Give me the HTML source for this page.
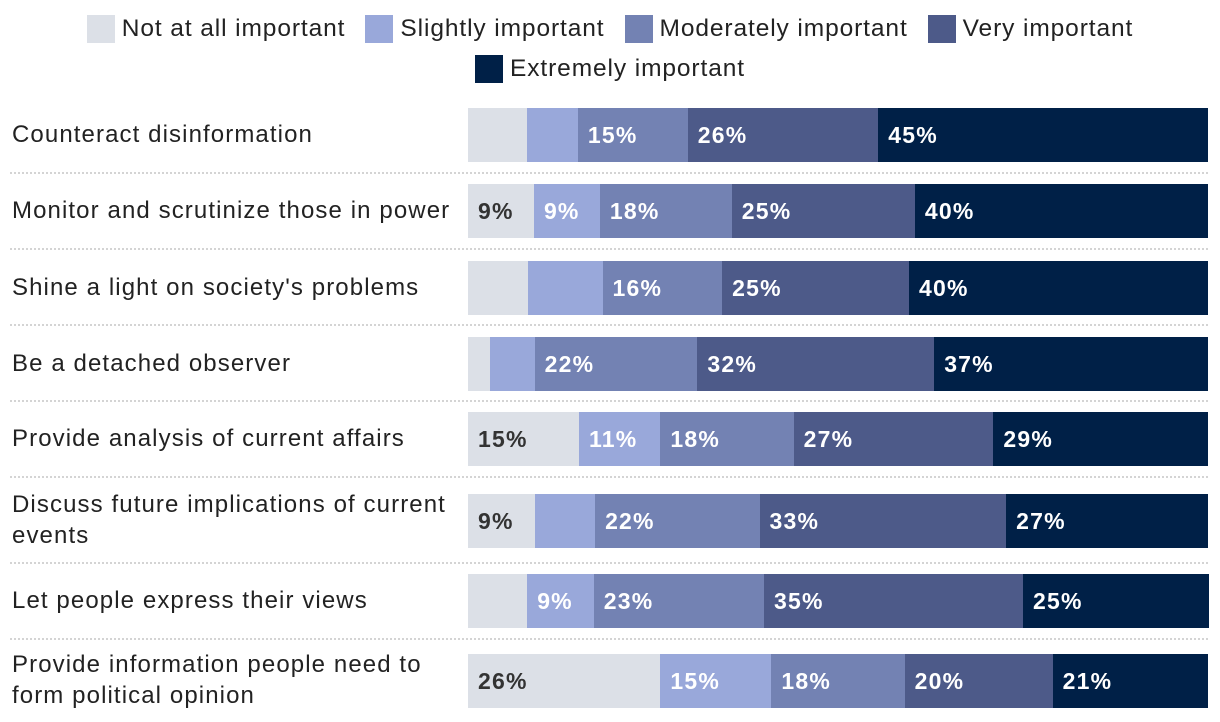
<!DOCTYPE html>
<html><head><meta charset="utf-8"><style>
body{margin:0;width:1220px;height:722px;background:#fff;font-family:"Liberation Sans",sans-serif;overflow:hidden;position:relative}
#legend{position:absolute;left:20px;top:13px;width:1180px;display:flex;flex-wrap:wrap;justify-content:center;row-gap:4px;column-gap:20px}
.li{display:flex;align-items:center;font-size:24.5px;letter-spacing:0.9px;color:#222;height:32px}
.sw{width:28px;height:28px;margin-right:7px}
.cat{position:absolute;left:12px;font-size:24px;letter-spacing:1.1px;color:#222;line-height:31px;white-space:nowrap}
.sep{position:absolute;left:10px;width:1198px;border-top:2px dotted #d4d4d4}
.seg{position:absolute;height:54px}
.lab{position:absolute;font-size:23px;letter-spacing:1.2px;font-weight:bold;line-height:54px}
</style></head><body>
<div id="legend"></div>
<div id="chart"></div>
<script>
const series=["Not at all important","Slightly important","Moderately important","Very important","Extremely important"];
const colors=["#dce0e7","#99a8da","#7382b3","#4d5a89","#002047"];
const categories=["Counteract disinformation","Monitor and scrutinize those in power","Shine a light on society's problems","Be a detached observer","Provide analysis of current affairs","Discuss future implications of current events","Let people express their views","Provide information people need to form political opinion"];
const notAtAll=[8,9,8,3,15,9,8,26];
const slightly=[7,9,10,6,11,8,9,15];
const moderately=[15,18,16,22,18,22,23,18];
const very=[26,25,25,32,27,33,35,20];
const extremely=[45,40,40,37,29,27,25,21];
const hiddenSlightlyLabel=[false,false,true,false,false,false,false,false];
const catLines=[["Counteract disinformation"],["Monitor and scrutinize those in power"],["Shine a light on society's problems"],["Be a detached observer"],["Provide analysis of current affairs"],["Discuss future implications of current","events"],["Let people express their views"],["Provide information people need to","form political opinion"]];
const rowCenters=[135,211,288,364,439,521,601,681];
const seps=[172,248,324,400,476,562,638];
const x0=468,W=740;
const leg=document.getElementById('legend');
series.forEach((s,i)=>{const d=document.createElement('div');d.className='li';


d.innerHTML='<div class="sw" style="background:'+colors[i]+'"></div>'+s;leg.appendChild(d);
if(i==3){const br=document.createElement('div');br.style.flexBasis='100%';br.style.height='0';leg.appendChild(br);}});
const ch=document.getElementById('chart');
const all=[notAtAll,slightly,moderately,very,extremely];
seps.forEach(y=>{const s=document.createElement('div');s.className='sep';s.style.top=y+'px';


ch.appendChild(s);});
categories.forEach((c,r)=>{
 const cy=rowCenters[r];const lines=catLines[r];
 const t=document.createElement('div');t.className='cat';t.innerHTML=lines.join('<br>');
 t.style.top=(cy-lines.length*31/2-1)+'px';
 
 
 ch.appendChild(t);
 const vals=all.map(a=>a[r]);const tot=vals.reduce((a,b)=>a+b,0);
 let acc=0;
 vals.forEach((v,i)=>{const x=x0+acc/tot*W,w=v/tot*W;acc+=v;
  const s=document.createElement('div');s.className='seg';
  s.style.left=x+'px';s.style.width=(w+0.5)+'px';s.style.top=(cy-27)+'px';s.style.background=colors[i];
  
  
  ch.appendChild(s);
  if(v>=9&&!(i==1&&hiddenSlightlyLabel[r])){const l=document.createElement('div');l.className='lab';l.textContent=v+'%';
   l.style.left=(x+10)+'px';l.style.top=(cy-27)+'px';l.style.color=i==0?'#333':'#fff';
   
   
   ch.appendChild(l);}
 });
});
</script>
</body></html>
